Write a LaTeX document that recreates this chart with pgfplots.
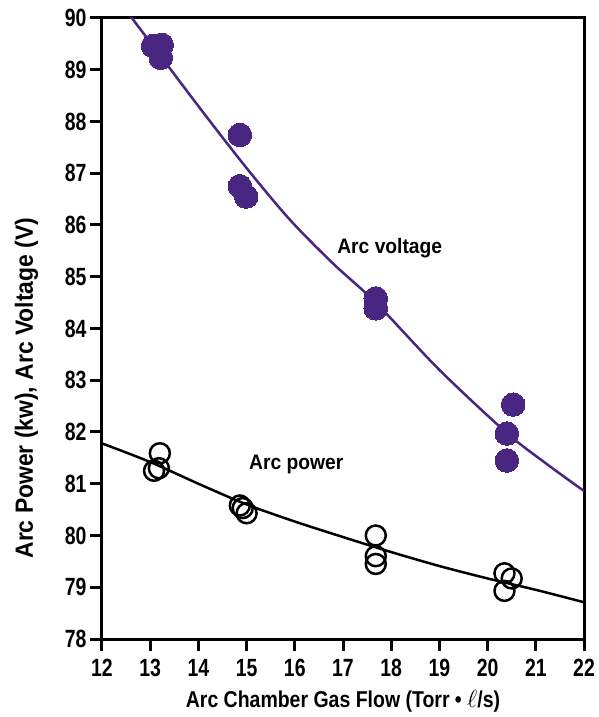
\documentclass[border=0pt]{standalone}
\usepackage{fontspec}
\setmainfont{Liberation Sans}[FakeStretch=0.85]
\newfontfamily\tickfont{Liberation Sans}[FakeStretch=0.78]
\newfontfamily\ylabfont{Liberation Sans}[FakeStretch=0.92]
\newfontfamily\inlabfont{Liberation Sans}[FakeStretch=0.92]
\usepackage{pgfplots}
\pgfplotsset{compat=1.18}
\definecolor{arcpurple}{RGB}{72,38,130}
\begin{document}
\begin{tikzpicture}
\begin{axis}[
  scale only axis,
  width=482bp, height=621bp,
  xmin=12, xmax=22, ymin=78, ymax=90,
  xtick={12,...,22}, ytick={78,...,90},
  tick align=outside, xtick pos=left, ytick pos=left,
  major tick length=12bp,
  axis line style={line width=3bp},
  every tick/.style={line width=3bp, black},
  /pgf/number format/assume math mode=true,
  ticklabel style={font=\tickfont\fontsize{25}{28}\selectfont\bfseries},
  xticklabel style={yshift=-5bp},
  xlabel={Arc Chamber Gas Flow (Torr \textbullet\ $\ell$/s)},
  ylabel={Arc Power (kw), Arc Voltage (V)},
  xlabel style={font=\fontsize{23}{26}\selectfont\bfseries, at={(axis description cs:0.5,-0.1111)}, anchor=base},
  ylabel style={font=\ylabfont\fontsize{25}{28}\selectfont\bfseries, at={(axis description cs:-0.1432,0.404)}, anchor=base},
  clip=true,
]
% Arc voltage fit
\addplot[arcpurple, line width=2.5bp, smooth, no marks] coordinates {
 (12.45,90.2) (12.62,90) (14.03,88.26) (15.0,87.1) (15.9,86.1) (16.8,85.25) (17.68,84.5) (19.0,83.2) (20.4,81.98) (21.2,81.4) (22,80.86)
};
% Arc voltage data
\addplot[only marks, mark=*, mark size=11.8bp, mark options={draw=arcpurple, fill=arcpurple, line width=0pt}] coordinates {
 (13.06,89.46) (13.24,89.48) (13.22,89.23)
 (14.86,87.74) (14.86,86.75) (14.99,86.55)
 (17.68,84.58) (17.68,84.39)
 (20.40,81.97) (20.40,81.45) (20.53,82.53)
};
% Arc power fit
\addplot[black, line width=2.5bp, smooth, no marks] coordinates {
 (12,81.78) (13,81.42) (14,81.0) (15,80.6) (16,80.27) (17,79.97) (18,79.68) (19,79.41) (20,79.17) (21,78.95) (22,78.71)
};
% Arc power data
\addplot[only marks, mark=o, mark size=10bp, mark options={draw=black, line width=2.5bp}] coordinates {
 (13.2,81.59) (13.08,81.25) (13.18,81.3)
 (14.86,80.58) (14.92,80.53) (15.0,80.43)
 (17.68,80.0) (17.68,79.6) (17.68,79.45)
 (20.35,79.27) (20.5,79.17) (20.35,78.93)
};
\node[font=\inlabfont\fontsize{21}{24}\selectfont\bfseries] at (axis cs:17.97,85.55) {Arc voltage};
\node[font=\inlabfont\fontsize{21}{24}\selectfont\bfseries] at (axis cs:16.03,81.37) {Arc power};
\coordinate (sw) at (rel axis cs:0,0);
\coordinate (ne) at (rel axis cs:1,1);
\end{axis}
\pgfresetboundingbox
\path (sw) +(-102bp,-78bp) (ne) +(15bp,18bp);
\end{tikzpicture}
\end{document}
